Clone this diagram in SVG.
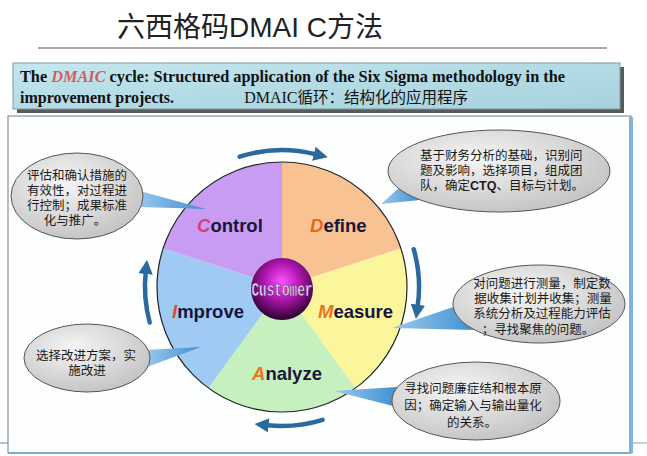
<svg xmlns="http://www.w3.org/2000/svg" width="647" height="456" viewBox="0 0 647 456">
<defs>
<style>
.cn{font-family:"Noto Sans CJK SC","Noto Sans",sans-serif;font-size:12.5px;fill:#1a1a1a;}
.lbl{font-family:"Liberation Sans",Arial,sans-serif;font-weight:bold;font-size:18.5px;fill:#16163a;}
.ini{font-style:italic;}
.arr{fill:none;stroke:#2b6a9e;stroke-width:4.5;stroke-linecap:round;marker-end:url(#ah);}
.ell{fill:url(#eg);stroke:#555;stroke-width:1;}
.wedge{fill:url(#wg);}
.ban{font-family:"Liberation Serif","Times New Roman",serif;font-weight:bold;font-size:16px;fill:#111;}
</style>
<marker id="ah" viewBox="0 0 10 10" refX="1" refY="5" markerWidth="3.2" markerHeight="3.4" orient="auto" markerUnits="strokeWidth">
<path d="M0,0 L10,5 L0,10 Z" fill="#2b6a9e"/>
</marker>
<radialGradient id="eg" cx="40%" cy="35%" r="70%">
<stop offset="0" stop-color="#f6f6f6"/>
<stop offset="1" stop-color="#c2c2c2"/>
</radialGradient>
<linearGradient id="wg" x1="0" y1="0" x2="1" y2="0">
<stop offset="0" stop-color="#9cc9ee"/>
<stop offset="1" stop-color="#3f8fd0"/>
</linearGradient>
<radialGradient id="sg" cx="50%" cy="38%" r="62%">
<stop offset="0" stop-color="#ff55ff"/>
<stop offset="0.45" stop-color="#b418b4"/>
<stop offset="1" stop-color="#2a002e"/>
</radialGradient>
<linearGradient id="bg" x1="0" y1="0" x2="1" y2="1">
<stop offset="0" stop-color="#c6e7ef"/>
<stop offset="0.5" stop-color="#b3dbe5"/>
<stop offset="1" stop-color="#a7d2dd"/>
</linearGradient>
</defs>
<rect width="647" height="456" fill="#ffffff"/>

<g id="title">
<text x="117" y="37" font-family="'Liberation Sans','Noto Sans CJK SC',sans-serif" font-size="28" fill="#222"><tspan font-family="'Noto Sans CJK SC',sans-serif">六西格码</tspan>DMAI C<tspan font-family="'Noto Sans CJK SC',sans-serif">方法</tspan></text>
<line x1="38" y1="48" x2="607" y2="48" stroke="#8a8a8a" stroke-width="1.5"/>
</g>

<g id="banner">
<rect x="17" y="67" width="607" height="46" fill="#5a5a5a"/>
<rect x="13" y="63" width="607" height="46" fill="url(#bg)" stroke="#7a9aa0" stroke-width="1"/>
<text class="ban" x="20" y="82" textLength="545" lengthAdjust="spacingAndGlyphs">The <tspan fill="#d0605a" font-style="italic">DMAIC</tspan> cycle: Structured application of the Six Sigma methodology in the</text>
<text class="ban" x="20" y="103">improvement projects.</text>
<text x="468" y="103" text-anchor="end" font-family="'Liberation Serif','Noto Sans CJK SC',serif" font-size="16" fill="#111">DMAIC<tspan font-family="'Noto Sans CJK SC',sans-serif" font-size="15.5">循环：结构化的应用程序</tspan></text>
</g>

<g id="panel">
<line x1="0" y1="443" x2="8" y2="443" stroke="#8fb7c6" stroke-width="1.5"/>
<line x1="632" y1="443" x2="647" y2="443" stroke="#a9cbb8" stroke-width="1.5"/>
<rect x="8" y="116" width="623" height="337" fill="#fdfefe" stroke="#6f7f86" stroke-width="1"/>
<line x1="631" y1="117" x2="631" y2="453" stroke="#7fb2de" stroke-width="4"/>
<line x1="8" y1="453" x2="631" y2="453" stroke="#6aa6c4" stroke-width="1.5"/>
</g>

<g id="connectors">
<path class="arr" d="M239.7,156.7 A137,137 0 0 1 315.2,154.1"/>
<path class="arr" d="M413.7,249.2 A137,137 0 0 1 417.7,306.1"/>
<path class="arr" d="M322.6,419.9 A139,139 0 0 1 267.4,425.3"/>
<path class="arr" d="M149.7,322.5 A137,137 0 0 1 145.7,272.6"/>
</g>

<g id="node-define">
<path d="M282,287 L282,162 A125,125 0 0 1 400.9,248.4 Z" fill="#f9c292"/>
<text class="lbl" x="310" y="232"><tspan class="ini" fill="#e36a18">D</tspan>efine</text>
</g>
<g id="node-measure">
<path d="M282,287 L400.9,248.4 A125,125 0 0 1 355.5,388.1 Z" fill="#fbf59c"/>
<text class="lbl" x="318" y="318"><tspan class="ini" fill="#e8751e">M</tspan>easure</text>
</g>
<g id="node-analyze">
<path d="M282,287 L355.5,388.1 A125,125 0 0 1 208.5,388.1 Z" fill="#c6f1bf"/>
<text class="lbl" x="252" y="380"><tspan class="ini" fill="#ee7420">A</tspan>nalyze</text>
</g>
<g id="node-improve">
<path d="M282,287 L208.5,388.1 A125,125 0 0 1 163.1,248.4 Z" fill="#9fcaf4"/>
<text class="lbl" x="172" y="318"><tspan class="ini" fill="#e04a30">I</tspan>mprove</text>
</g>
<g id="node-control">
<path d="M282,287 L163.1,248.4 A125,125 0 0 1 282,162 Z" fill="#c99cf3"/>
<text class="lbl" x="197" y="232"><tspan class="ini" fill="#d8407a">C</tspan>ontrol</text>
</g>
<circle cx="282" cy="287" r="125" fill="none" stroke="#222" stroke-width="1.2"/>

<g id="node-customer">
<circle cx="282" cy="289" r="31" fill="url(#sg)"/>
<text x="282" y="296" text-anchor="middle" font-family="'Liberation Mono','DejaVu Sans Mono',monospace" font-weight="bold" font-size="21" textLength="61" lengthAdjust="spacingAndGlyphs" fill="#f6e8f8" stroke="#5a1a6a" stroke-width="0.7">Customer</text>
</g>

<g id="callout-control">
<polygon class="wedge" points="136,190 139,207 206,209"/>
<ellipse class="ell" cx="77" cy="196" rx="66" ry="43"/>
<text class="cn" text-anchor="middle" x="77" y="180">评估和确认措施的</text>
<text class="cn" text-anchor="middle" x="77" y="195">有效性，对过程进</text>
<text class="cn" text-anchor="middle" x="77" y="210">行控制；成果标准</text>
<text class="cn" text-anchor="middle" x="75" y="225">化与推广。</text>
</g>

<g id="callout-define">
<polygon class="wedge" points="381,204 408,180 420,200"/>
<ellipse class="ell" cx="499" cy="171" rx="111" ry="41"/>
<text class="cn" x="420" y="160">基于财务分析的基础，识别问</text>
<text class="cn" x="420" y="175">题及影响，选择项目，组成团</text>
<text class="cn" x="420" y="190">队，确定<tspan font-family="'Liberation Sans',Arial,sans-serif" font-weight="bold">CTQ</tspan>、目标与计划。</text>
</g>

<g id="callout-measure">
<polygon class="wedge" points="392,328 462,304 476,330"/>
<ellipse class="ell" cx="539" cy="304" rx="86" ry="39"/>
<text class="cn" text-anchor="middle" x="542" y="288">对问题进行测量，制定数</text>
<text class="cn" text-anchor="middle" x="543" y="303">据收集计划并收集；测量</text>
<text class="cn" text-anchor="middle" x="542" y="318">系统分析及过程能力评估</text>
<text class="cn" text-anchor="middle" x="538" y="334">；寻找聚焦的问题。</text>
</g>

<g id="callout-analyze">
<polygon class="wedge" points="334,391 397,387 397,407"/>
<ellipse class="ell" cx="476" cy="401" rx="84" ry="39"/>
<text class="cn" text-anchor="middle" x="473" y="393">寻找问题廉症结和根本原</text>
<text class="cn" text-anchor="middle" x="473" y="410">因；确定输入与输出量化</text>
<text class="cn" text-anchor="middle" x="472" y="427">的关系。</text>
</g>

<g id="callout-improve">
<polygon class="wedge" points="145,350 147,367 201,347"/>
<ellipse class="ell" cx="87" cy="358" rx="63" ry="34"/>
<text class="cn" text-anchor="middle" x="86" y="360">选择改进方案，实</text>
<text class="cn" text-anchor="middle" x="87" y="375">施改进</text>
</g>
</svg>
